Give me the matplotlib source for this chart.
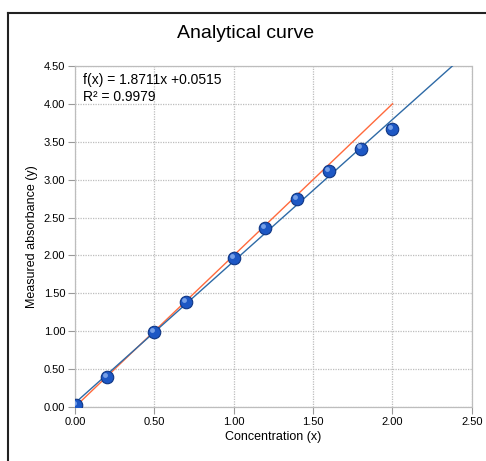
import numpy as np
import matplotlib.pyplot as plt
from matplotlib.lines import Line2D
from matplotlib import transforms

plt.rcParams['font.family'] = ['Liberation Sans', 'DejaVu Sans']

# measured points
conc = [0.01, 0.2, 0.5, 0.7, 1.0, 1.2, 1.4, 1.6, 1.8, 2.0]
absorb = [0.03, 0.40, 0.99, 1.38, 1.97, 2.36, 2.74, 3.11, 3.41, 3.67]

# ideal line y = 2x
ideal_x = [0.0, 2.0]
ideal_y = [0.0, 4.0]

# linear trend line (from the chart)
slope = 1.8711
intercept = 0.0515
r2 = 0.9979
trend_x = np.array([0.0, 2.5])

xticks = [0.0, 0.5, 1.0, 1.5, 2.0, 2.5]
yticks = [0.0, 0.5, 1.0, 1.5, 2.0, 2.5, 3.0, 3.5, 4.0, 4.5]

fig = plt.figure(figsize=(4.86, 4.61), dpi=100)
ax = fig.add_axes([0.154, 0.117, 0.817, 0.740])

ax.plot(ideal_x, ideal_y, color='#ff6a3d', lw=1.0, zorder=2)
ax.plot(trend_x, slope*trend_x + intercept, color='#2e6aa6', lw=1.0, zorder=3)

ax.plot(conc, absorb, 'o', ms=9, mfc='#1d57c4', mec='#0f3684', mew=0.8, zorder=4)
# little highlight to fake the shaded spheres
hl = transforms.offset_copy(ax.transData, fig=fig, x=-1.5, y=1.5, units='points')
ax.plot(conc, absorb, 'o', ms=3.5, mfc='#8fb3f0', mec='none', alpha=0.8,
        transform=hl, zorder=5)

ax.set_xlim(0, 2.5)
ax.set_ylim(0, 4.5)
ax.set_xticks(xticks)
ax.set_yticks(yticks)
ax.set_xticklabels(['%.2f' % v for v in xticks])
ax.set_yticklabels(['%.2f' % v for v in yticks])
ax.tick_params(labelsize=8, length=5, width=0.8, color='#999999', pad=2)

ax.grid(True, color='#bdbdbd', ls=(0, (1, 1)), lw=0.9)
for s in ax.spines.values():
    s.set_color('#bdbdbd')
    s.set_linestyle((0, (1, 1)))
    s.set_linewidth(0.9)
ax.set_axisbelow(True)

ax.text(0.05, 4.31, 'f(x) = 1.8711x +0.0515', fontsize=10, va='center', ha='left')
ax.text(0.05, 4.09, 'R² = %.4f' % r2, fontsize=10, va='center', ha='left')

ax.set_xlabel('Concentration (x)', fontsize=9, labelpad=3)
ax.set_ylabel('Measured absorbance (y)', fontsize=9, labelpad=4)

fig.text(0.505, 0.928, 'Analytical curve', ha='center', va='center', fontsize=14)

# outer chart frame (only left and top edges visible in the crop)
fig.add_artist(Line2D([0.017, 0.017], [0.0, 0.972], color='#222222', lw=1.5))
fig.add_artist(Line2D([0.017, 1.0], [0.972, 0.972], color='#222222', lw=1.5))

fig.savefig('out.png', dpi=100)
